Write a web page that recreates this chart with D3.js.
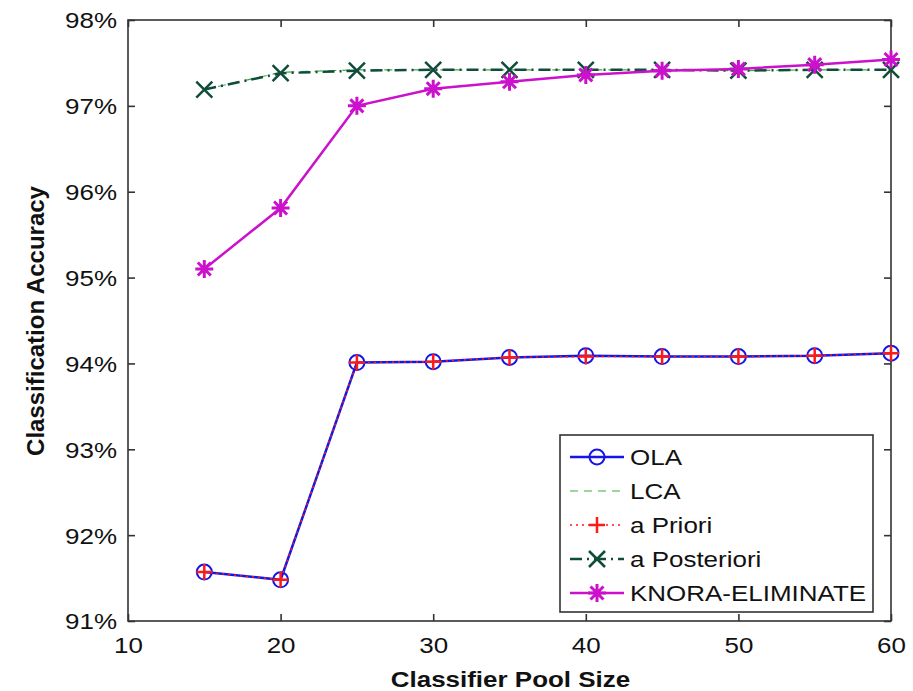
<!DOCTYPE html>
<html><head><meta charset="utf-8">
<script src="https://cdn.jsdelivr.net/npm/d3@7"></script>
<style>body{margin:0;background:#fff}svg{display:block}text{font-family:"Liberation Sans",Arial,sans-serif}</style>
</head><body><svg id="c" width="913" height="691"></svg>
<script>
const poolSizes = [15,20,25,30,35,40,45,50,55,60];
const ola        = [91.57,91.48,94.01,94.02,94.07,94.09,94.08,94.08,94.09,94.12];
const lca        = [97.19,97.39,97.42,97.42,97.42,97.42,97.42,97.41,97.42,97.42];
const aPriori    = [91.57,91.48,94.01,94.02,94.07,94.08,94.08,94.08,94.09,94.12];
const aPosteriori= [97.19,97.38,97.41,97.42,97.42,97.42,97.42,97.41,97.42,97.42];
const knora      = [95.10,95.81,97.00,97.20,97.28,97.36,97.41,97.43,97.48,97.54];
const xTicks = [10,20,30,40,50,60];
const yTicks = [91,92,93,94,95,96,97,98];

const svg = d3.select("#c");
const L=128, R=891, T=20, B=621;
const x = d3.scaleLinear().domain([10,60]).range([L,R]);
const y = d3.scaleLinear().domain([91,98]).range([B,T]);
const axisCol="#333";
const FS=22;

// frame
svg.append("rect").attr("x",L).attr("y",T).attr("width",R-L).attr("height",B-T)
  .attr("fill","none").attr("stroke",axisCol).attr("stroke-width",1.6);

// axes
const gx = svg.append("g").attr("transform",`translate(0,${B})`)
  .call(d3.axisBottom(x).tickValues(xTicks).tickSizeInner(-7).tickSizeOuter(0).tickPadding(16));
const gxt = svg.append("g").attr("transform",`translate(0,${T})`)
  .call(d3.axisTop(x).tickValues(xTicks).tickSizeInner(-7).tickSizeOuter(0).tickFormat(""));
const gy = svg.append("g").attr("transform",`translate(${L},0)`)
  .call(d3.axisLeft(y).tickValues(yTicks).tickSizeInner(-7).tickSizeOuter(0).tickPadding(11).tickFormat(d=>d+"%"));
const gyr = svg.append("g").attr("transform",`translate(${R},0)`)
  .call(d3.axisRight(y).tickValues(yTicks).tickSizeInner(-7).tickSizeOuter(0).tickFormat(""));
[gx,gxt,gy,gyr].forEach(g=>{
  g.select(".domain").remove();
  g.selectAll("line").attr("stroke",axisCol).attr("stroke-width",1.6);
  g.selectAll("text").attr("fill","#111").attr("font-size",FS).style("font-family","'Liberation Sans',Arial,sans-serif");
});
gy.selectAll("text").attr("dy","0.36em");

// axis titles
svg.append("text").attr("x",(L+R)/2+1).attr("y",687).attr("text-anchor","middle")
  .attr("font-size",FS).attr("font-weight","bold").attr("fill","#111").text("Classifier Pool Size");
svg.append("text").attr("class","nostretch").attr("transform",`translate(44,321) rotate(-90)`).attr("text-anchor","middle")
  .attr("font-size",24).attr("font-weight","bold").attr("fill","#111").text("Classification Accuracy");

const line = d3.line().x((d,i)=>x(poolSizes[i])).y(d=>y(d));

function markerPath(type, s){
  if(type==="plus") return `M${-s},0H${s}M0,${-s}V${s}`;
  if(type==="x") return `M${-s},${-s}L${s},${s}M${-s},${s}L${s},${-s}`;
  if(type==="star"){ const d=s*0.72; return `M${-s},0H${s}M0,${-s}V${s}M${-d},${-d}L${d},${d}M${-d},${d}L${d},${-d}`; }
  return "";
}
function drawMarker(g, type, cx, cy, col, sw){
  if(type==="circle") g.append("circle").attr("cx",cx).attr("cy",cy).attr("r",7.5).attr("fill","none").attr("stroke",col).attr("stroke-width",sw);
  else if(type) g.append("path").attr("transform",`translate(${cx},${cy})`).attr("d",markerPath(type, type==="star"?9:8)).attr("fill","none").attr("stroke",col).attr("stroke-width",sw);
}

const series = [
  {name:"OLA", vals:ola, col:"#1515e6", dash:null, w:2.5, m:"circle", mw:2},
  {name:"LCA", vals:lca, col:"#3cab3c", dash:"8,6", w:1.2, m:null, mw:1},
  {name:"a Priori", vals:aPriori, col:"#ff1a1a", dash:"2,4", w:1.5, m:"plus", mw:2.5},
  {name:"a Posteriori", vals:aPosteriori, col:"#0f4d3a", dash:"12,5,2,5", w:2.5, m:"x", mw:2.5},
  {name:"KNORA-ELIMINATE", vals:knora, col:"#cc11cc", dash:null, w:2.5, m:"star", mw:3}
];
const plot = svg.append("g");
[1,3,0,2,4].forEach(k=>{
  const s=series[k];
  const g=plot.append("g");
  g.append("path").attr("d",line(s.vals)).attr("fill","none").attr("stroke",s.col)
   .attr("stroke-width",s.w).attr("stroke-dasharray",s.dash);
  s.vals.forEach((v,i)=>drawMarker(g,s.m,x(poolSizes[i]),y(v),s.col,s.mw));
});

// legend
const lg = svg.append("g");
lg.append("rect").attr("x",560).attr("y",435).attr("width",313).attr("height",177)
  .attr("fill","#fff").attr("stroke",axisCol).attr("stroke-width",1.6);
series.forEach((s,i)=>{
  const cy=457+i*34;
  lg.append("line").attr("x1",570).attr("x2",624).attr("y1",cy).attr("y2",cy)
    .attr("stroke",s.col).attr("stroke-width",s.w).attr("stroke-dasharray",s.dash);
  drawMarker(lg,s.m,597,cy,s.col,s.mw);
  lg.append("text").attr("x",630).attr("y",cy).attr("dy","0.36em").attr("font-size",FS).attr("fill","#111").text(s.name);
});

// horizontal widening of glyphs to match the reference's wide type
svg.selectAll("text:not(.nostretch)").each(function(){
  const t=d3.select(this); const n=this.getComputedTextLength();
  if(n>0) t.attr("textLength",n*1.18).attr("lengthAdjust","spacingAndGlyphs");
});
</script></body></html>
